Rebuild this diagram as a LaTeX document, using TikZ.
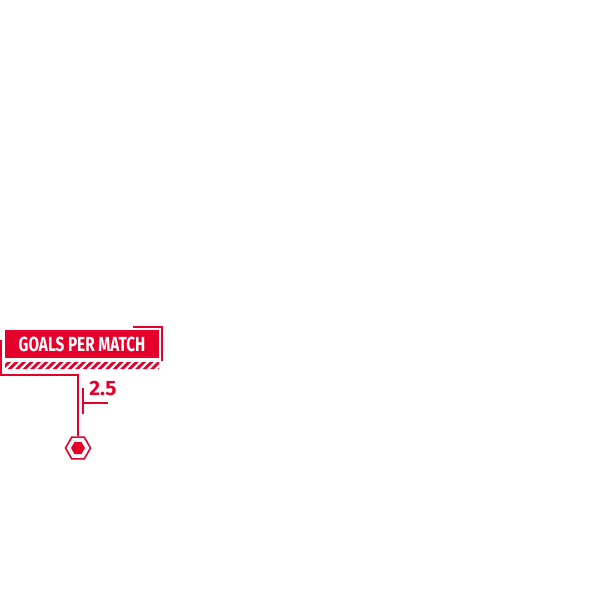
\documentclass[tikz,border=0pt]{standalone}
\usepackage{fontspec}
\setmainfont{Fira Sans}
\usepackage{tikz}
\definecolor{matchred}{HTML}{E4002B}
\usetikzlibrary{positioning,shapes.geometric}
\tikzstyle{titlebox}=[fill=matchred, text=white, minimum width=77pt, minimum height=14pt, inner sep=0pt, font=\bfseries\fontsize{10.2}{11}\selectfont]
\tikzstyle{valuelabel}=[text=matchred, inner sep=0pt, font=\bfseries\fontsize{10.4}{11}\selectfont]
\tikzstyle{hexmark}=[regular polygon, regular polygon sides=6, draw=matchred, line width=0.8pt, minimum size=12.5pt, inner sep=0pt]
\tikzstyle{hexcore}=[regular polygon, regular polygon sides=6, fill=matchred, minimum size=7pt, inner sep=0pt]
\tikzstyle{guide}=[draw=matchred, line width=0.7pt]

\begin{document}
\begin{tikzpicture}[x=0.5pt, y=-0.5pt]
			\useasboundingbox (0,0) rectangle (600,600);
			\node[titlebox] (title) at (82,344) {\scalebox{0.75}[1]{GOALS PER MATCH}};
			% striped band under the title
			\begin{scope}
				\clip (5,362) rectangle (159,369);
				\foreach \i in {-1,...,21}
					\fill[matchred] (\i*7.5,369) -- ++(4,0) -- ++(7,-7) -- ++(-4,0) -- cycle;
			\end{scope}
			\node[hexmark] (hex) at (78,448) {};
			\node[hexcore] (core) at (hex.center) {};
			\node[valuelabel] (value) at (103,388) {2.5};
			\coordinate (bl1) at (1,340);
			\coordinate (bl2) at (1,375);
			\coordinate (bl3) at (78,375);
			\coordinate (br1) at (133,327);
			\coordinate (br2) at (162,327);
			\coordinate (br3) at (162,361);
			\coordinate (t1) at (83,388);
			\coordinate (t2) at (83,414);
			\coordinate (t3) at (83,403);
			\coordinate (t4) at (108,403);
			\path[guide] (bl1)--(bl2)--(bl3)--(hex.north) (br1)--(br2)--(br3) (t1)--(t2) (t3)--(t4);
		\end{tikzpicture}
\end{document}
